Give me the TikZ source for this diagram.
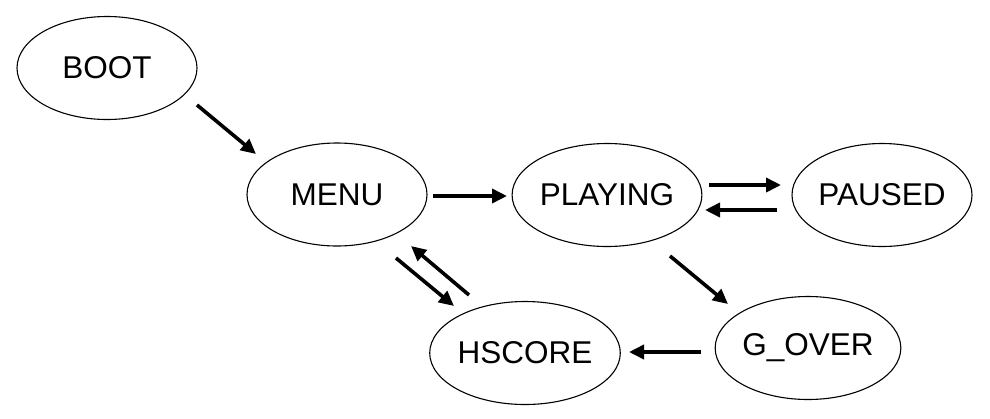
\documentclass[tikz,border=0pt]{standalone}
\usepackage{fontspec}
\setmainfont{Liberation Sans}
\usetikzlibrary{shapes.geometric,arrows.meta}
\begin{document}
\begin{tikzpicture}[x=1pt,y=-1pt,
  state/.style={ellipse,draw,line width=1.1pt,minimum width=180pt,minimum height=103pt,inner sep=0pt,font=\fontsize{31.5}{31.5}\selectfont},
  arr/.style={line width=3.6pt,-{Triangle[length=15pt,width=14pt]}}]
\useasboundingbox (0,0) rectangle (990,418);
\node[state] (boot) at (107,68) {BOOT};
\node[state] (menu) at (337,194.5) {MENU};
\node[state] (playing) at (607,195) {PLAYING};
\node[state] (paused) at (882,195) {PAUSED};
\node[state] (gover) at (808,348) {G\_OVER};
\node[state] (hscore) at (525,353) {HSCORE};
% connector end points
\coordinate (b1) at (197,105); \coordinate (m1) at (256,154);
\coordinate (m2) at (433,196); \coordinate (p1) at (507,196);
\coordinate (p2) at (709,185); \coordinate (pa1) at (781,185);
\coordinate (pa2) at (777,210); \coordinate (p3) at (705,210);
\coordinate (p4) at (670,256); \coordinate (g1) at (728,304);
\coordinate (g2) at (701,352); \coordinate (h1) at (629,352);
\coordinate (m3) at (396,258); \coordinate (h2) at (454,306);
\coordinate (h3) at (469,295); \coordinate (m4) at (411,246);
\draw[arr] (b1) -- (m1);
\draw[arr] (m2) -- (p1);
\draw[arr] (p2) -- (pa1);
\draw[arr] (pa2) -- (p3);
\draw[arr] (p4) -- (g1);
\draw[arr] (g2) -- (h1);
\draw[arr] (m3) -- (h2);
\draw[arr] (h3) -- (m4);
\end{tikzpicture}
\end{document}
